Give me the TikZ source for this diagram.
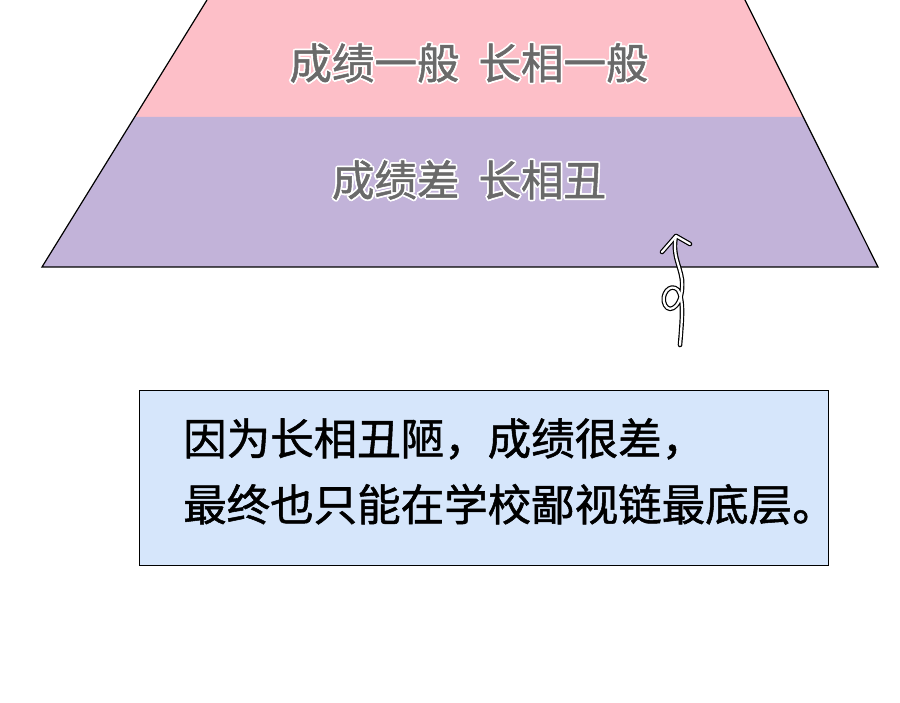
\documentclass[tikz,border=0pt]{standalone}
\usepackage{fontspec}
\newfontfamily\cjk[FakeBold=1.2]{Noto Sans CJK SC}
\definecolor{pinkb}{HTML}{FDBFC8}
\definecolor{purpb}{HTML}{C2B3D9}
\definecolor{boxb}{HTML}{D6E6FB}
\definecolor{txtg}{HTML}{6A6A6A}
\newcommand{\halo}[3]{%
 \foreach \dx/\dy in {1.8/0,-1.8/0,0/1.8,0/-1.8,1.3/1.3,-1.3/1.3,1.3/-1.3,-1.3/-1.3}
  \node[lvl,text=white] at ([shift={(\dx,\dy)}]#1) {#3};
 \node[lvl,text=txtg] (#2) at (#1) {#3};}
\begin{document}
\begin{tikzpicture}[x=1pt,y=-1pt,
  lvl/.style={font=\cjk\fontsize{42.5}{42.5}\selectfont,inner sep=0pt},
  note/.style={font=\cjk\fontsize{43.5}{66}\selectfont,align=left,anchor=north west,inner sep=0pt},
  edge/.style={draw=black,line width=1.2pt}]
\useasboundingbox (0,0) rectangle (900,703);
\fill[white] (0,0) rectangle (900,703);
\fill[pinkb] (207,0) -- (745,0) -- (803.3,117) -- (134.7,117) -- cycle;
\fill[purpb] (134.7,117) -- (803.3,117) -- (878,267) -- (42,267) -- cycle;
\draw[edge] (207,0) -- (42,267) -- (878,267) -- (745,0);
\coordinate (t1) at (469,63);
\coordinate (t2) at (469,180);
\halo{t1}{l1}{成绩一般\ \ 长相一般}
\halo{t2}{l2}{成绩差\ \ 长相丑}
% curly arrow
\coordinate (as) at (680,345);
\coordinate (ae) at (676,236);
\foreach \w/\c in {4.6/black,2.2/white}{
 \draw[line width=\w pt,\c,line cap=round,line join=round]
   (as) .. controls (682,320) and (684,300) .. (678,290)
        .. controls (670,282) and (660,295) .. (665,305)
        .. controls (670,315) and (684,305) .. (682,280)
        .. controls (680,265) and (672,255) .. (ae);
 \draw[line width=\w pt,\c,line cap=round,line join=round]
   (662,252) -- (ae) -- (690,244);
}
\node[draw=black,line width=1.2pt,fill=boxb,minimum width=689,minimum height=175,anchor=north west,inner sep=0pt] (box) at (139,390) {};
\node[note] (txt) at (183,418) {因为长相丑陋，成绩很差，\\最终也只能在学校鄙视链最底层。};
\end{tikzpicture}
\end{document}
